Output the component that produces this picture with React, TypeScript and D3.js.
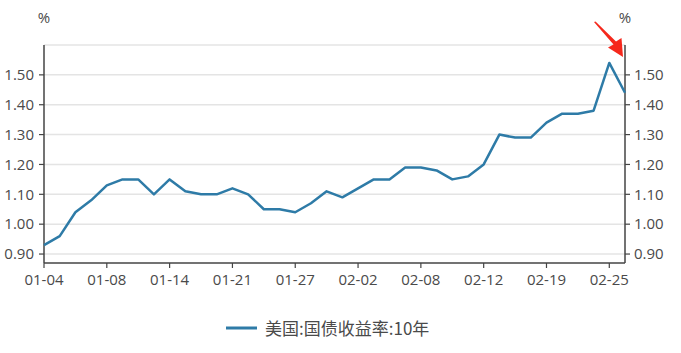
import React from "react";
import * as d3 from "d3";

// US 10-year Treasury yield, daily (trading days), %
const dates = [
  "01-04", "01-05", "01-06", "01-07", "01-08", "01-11", "01-12", "01-13", "01-14", "01-15",
  "01-19", "01-20", "01-21", "01-22", "01-25", "01-26", "01-27", "01-28", "01-29", "02-01",
  "02-02", "02-03", "02-04", "02-05", "02-08", "02-09", "02-10", "02-11", "02-12", "02-16",
  "02-17", "02-18", "02-19", "02-22", "02-23", "02-24", "02-25", "02-26",
];
const yields = [
  0.93, 0.96, 1.04, 1.08, 1.13, 1.15, 1.15, 1.10, 1.15, 1.11,
  1.10, 1.10, 1.12, 1.10, 1.05, 1.05, 1.04, 1.07, 1.11, 1.09,
  1.12, 1.15, 1.15, 1.19, 1.19, 1.18, 1.15, 1.16, 1.20, 1.30,
  1.29, 1.29, 1.34, 1.37, 1.37, 1.38, 1.54, 1.44,
];
const yTicks = [0.9, 1.0, 1.1, 1.2, 1.3, 1.4, 1.5];
const seriesName = "美国:国债收益率:10年";
const unit = "%";

const W = 681;
const H = 353;
const M = { left: 44, right: 56, top: 45, bottom: 90 };
const LINE = "#2e7ba7";
const AXIS = "#444";
const LABEL = "#4a4a4a";
const GRID = "#e4e4e4";
const FONT = "'Open Sans', 'Noto Sans CJK SC', sans-serif";

export default function App() {
  const x0 = M.left;
  const x1 = W - M.right;
  const y0 = M.top;
  const y1 = H - M.bottom;

  const x = d3.scalePoint<string>().domain(dates).range([x0, x1]);
  const y = d3.scaleLinear().domain([0.87, 1.6]).range([y1, y0]);

  const line = d3
    .line<number>()
    .x((_, i) => x(dates[i]) as number)
    .y((d) => y(d));

  const labelIdx = dates.map((_, i) => i).filter((i) => i % 4 === 0);

  return (
    <svg
      width={W}
      height={H}
      style={{ position: "absolute", left: 0, top: 0, background: "#fff" }}
      fontFamily={FONT}
    >
      {/* horizontal grid */}
      {[...yTicks, 1.6].map((t) => (
        <line key={t} x1={x0} x2={x1} y1={y(t)} y2={y(t)} stroke={GRID} strokeWidth={1.5} />
      ))}

      {/* left axis */}
      <line x1={x0} x2={x0} y1={y0} y2={y1} stroke={AXIS} strokeWidth={1.5} />
      {yTicks.map((t) => (
        <g key={"l" + t}>
          <line x1={x0 - 5} x2={x0} y1={y(t)} y2={y(t)} stroke={AXIS} strokeWidth={1.2} />
          <text x={x0 - 10} y={y(t)} dy="0.35em" textAnchor="end" fontSize={15} fill={LABEL}>
            {t.toFixed(2)}
          </text>
        </g>
      ))}

      {/* right axis */}
      <line x1={x1} x2={x1} y1={y0} y2={y1} stroke={AXIS} strokeWidth={1.5} />
      {yTicks.map((t) => (
        <g key={"r" + t}>
          <line x1={x1} x2={x1 + 5} y1={y(t)} y2={y(t)} stroke={AXIS} strokeWidth={1.2} />
          <text x={x1 + 9} y={y(t)} dy="0.35em" textAnchor="start" fontSize={15} fill={LABEL}>
            {t.toFixed(2)}
          </text>
        </g>
      ))}

      {/* bottom axis */}
      <line x1={x0} x2={x1} y1={y1} y2={y1} stroke={AXIS} strokeWidth={1.5} />
      {labelIdx.map((i) => (
        <g key={dates[i]}>
          <line
            x1={x(dates[i])}
            x2={x(dates[i])}
            y1={y1}
            y2={y1 + 5}
            stroke={AXIS}
            strokeWidth={1.2}
          />
          <text x={x(dates[i])} y={y1 + 22} textAnchor="middle" fontSize={15} fill={LABEL}>
            {dates[i]}
          </text>
        </g>
      ))}

      {/* unit labels */}
      <text x={x0} y={23} textAnchor="middle" fontSize={15} fill={LABEL}>
        {unit}
      </text>
      <text x={x1} y={23} textAnchor="middle" fontSize={15} fill={LABEL}>
        {unit}
      </text>

      {/* series */}
      <path d={line(yields) ?? ""} fill="none" stroke={LINE} strokeWidth={2.5} strokeLinejoin="round" />

      {/* pointer arrow at the latest reading */}
      <path
        d="M594,22 L595.5,21.5 L616,41.5 L621.5,38 L623,57 L608,47.5 L613.5,44.5 Z"
        fill="#f5281c"
      />

      {/* legend */}
      <line x1={226} x2={257} y1={328} y2={328} stroke={LINE} strokeWidth={3} />
      <text x={265} y={329} dy="0.35em" fontSize={17} fill={LABEL} fontFamily="'Noto Sans CJK SC', sans-serif">
        {seriesName}
      </text>
    </svg>
  );
}
